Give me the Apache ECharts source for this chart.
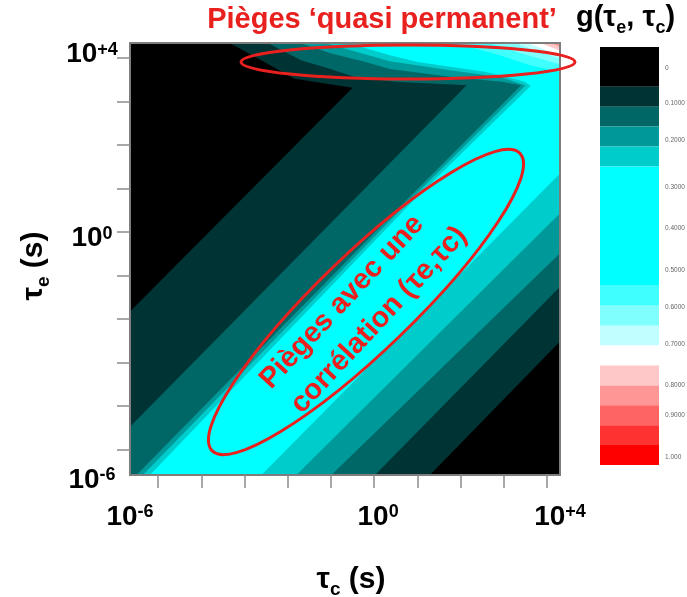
<!DOCTYPE html>
<html>
<head>
<meta charset="utf-8">
<script src="https://cdn.jsdelivr.net/npm/echarts@6/dist/echarts.min.js"></script>
<style>
html,body{margin:0;padding:0;background:#ffffff;}
#chart{width:687px;height:597px;}
</style>
</head>
<body>
<div id="chart"></div>
<script>
// ---------- data (log10 of seconds) ----------
const tauCRange = [-5.65, 4.30];          // x axis: log10(tau_c)
const tauERange = [-5.59, 4.35];          // y axis: log10(tau_e)
const tickDecades = [-5, -4, -3, -2, -1, 0, 1, 2, 3, 4];
const xTickLabelValues = [-5.65, 0.09, 4.30];
const yTickLabelValues = [-5.56, 0, 4.23];
const tickExponents = ['-6', '0', '+4'];

// superlevel regions of g(tau_e, tau_c), vertices [log tau_c, log tau_e]
const levelAll = [[-5.65,-5.59],[4.30,-5.59],[4.30,4.35],[-5.65,4.35]];
const level010 = [[-3.34,4.35],[4.30,4.35],[4.30,-2.52],[1.29,-5.59],[-5.65,-5.59],[-5.65,-1.83],[-0.50,3.32],[-1.14,3.42],[-1.84,3.53]];
const level015 = [[-2.46,4.35],[4.30,4.35],[4.30,-1.26],[0.02,-5.59],[-5.65,-5.59],[-5.65,-4.48],[2.14,3.38],[0.48,3.46],[-0.45,3.57],[-1.07,3.77],[-1.68,3.95]];
const level020 = [[-1.72,4.35],[4.30,4.35],[4.30,-0.49],[-0.99,-5.59],[-5.50,-5.59],[0.75,0.74],[3.40,3.38],[2.95,3.46],[1.80,3.57],[0.36,3.75],[-0.22,3.92],[-0.99,4.11]];
const level025 = [[-1.14,4.35],[4.30,4.35],[4.30,0.43],[-1.80,-5.59],[-5.35,-5.59],[0.83,0.74],[3.50,3.37],[2.95,3.56],[1.80,3.72],[0.36,3.93]];
const level030 = [[-0.61,4.35],[4.30,4.35],[4.30,1.35],[-2.61,-5.59],[-5.19,-5.59],[0.92,0.74],[3.62,3.36],[3.49,3.46],[3.19,3.54],[2.56,3.69],[1.80,3.80],[1.01,3.91],[0.36,4.07]];
const level060 = [[1.87,4.35],[4.30,4.35],[4.30,3.68],[3.60,3.84],[2.91,4.07]];
const level065 = [[2.68,4.35],[4.30,4.35],[4.30,3.86],[3.37,4.12]];
const level070 = [[3.26,4.35],[4.30,4.35],[4.30,4.00],[3.84,4.14]];
const level075 = [[3.55,4.35],[4.30,4.35],[4.30,4.07]];
const level080 = [[3.85,4.35],[4.30,4.35],[4.30,4.17]];
const level085 = [[4.08,4.35],[4.30,4.35],[4.30,4.26]];
const levelPolygons = [levelAll, level010, level015, level020, level025, level030,
                       level060, level065, level070, level075, level080, level085];

// colour scale (band slots on the colour bar, and its labels)
const colorbarBands = [[0,2],[2,3],[3,4],[4,5],[5,6],[6,12],[12,13],[13,14],[14,15],[15,16],[16,17],[17,18],[18,19],[19,20],[20,21]];
const colorbarLabelPos = [1.06, 2.81, 4.67, 7.03, 9.09, 11.2, 13.06, 14.92, 16.98, 18.49, 20.6];
const colorbarLabels = ['0','0.1000','0.2000','0.3000','0.4000','0.5000','0.6000','0.7000','0.8000','0.9000','1.000'];

// ---------- styles ----------
const levelColors = ['#000000','#003333','#006666','#009999','#00cccc','#00ffff',
                     '#40ffff','#80ffff','#c0ffff','#ffffff','#ffc8c8','#ff9696'];
const colorbarColors = ['#000000','#003333','#006666','#009999','#00cccc','#00ffff',
                        '#40ffff','#80ffff','#c0ffff','#ffffff','#ffc8c8','#ff9696','#ff6464','#ff3232','#ff0000'];
const FONT = '"Liberation Sans", Arial, sans-serif';
const RED = '#e8201e';

function nearest(arr, v) {
  let best = 0;
  for (let i = 1; i < arr.length; i++) if (Math.abs(arr[i] - v) < Math.abs(arr[best] - v)) best = i;
  return best;
}

const tickRich = {
  b: { fontFamily: FONT, fontSize: 28, fontWeight: 'bold', color: '#000', lineHeight: 28, padding: [8,0,0,0], verticalAlign: 'bottom' },
  s: { fontFamily: FONT, fontSize: 18, fontWeight: 'bold', color: '#000', lineHeight: 18, verticalAlign: 'top' }
};
const nameRich = {
  t: { fontFamily: FONT, fontSize: 30, fontWeight: 'bold', color: '#000', lineHeight: 34, verticalAlign: 'top' },
  sub: { fontFamily: FONT, fontSize: 19, fontWeight: 'bold', color: '#000', lineHeight: 19, verticalAlign: 'bottom' }
};
const tickStyle = { show: true, customValues: tickDecades, length: 13, lineStyle: { color: '#8c8c8c', width: 1.5 } };
const frameLine = { show: true, onZero: false, lineStyle: { color: '#7d7d7d', width: 2 } };

const chart = echarts.init(document.getElementById('chart'), null, { renderer: 'canvas' });

const option = {
  animation: false,
  backgroundColor: '#ffffff',
  grid: [
    { left: 130, top: 43, width: 430, height: 432, show: true, z: 10, outerBoundsMode: 'none',
      borderColor: '#7d7d7d', borderWidth: 2, backgroundColor: 'rgba(0,0,0,0)' },
    { left: 600, top: 47, width: 59, height: 418, outerBoundsMode: 'none' }
  ],
  xAxis: [
    { gridIndex: 0, type: 'value', min: tauCRange[0], max: tauCRange[1], z: 10,
      axisLine: frameLine, splitLine: { show: false },
      axisTick: tickStyle,
      axisLabel: { show: true, customValues: xTickLabelValues, margin: 28, rich: tickRich,
        formatter: v => '{b|10}{s|' + tickExponents[nearest(xTickLabelValues, v)] + '}' },
      name: '{t|τ}{sub|c}{t| (s)}', nameLocation: 'middle', nameGap: 90,
      nameTextStyle: { rich: nameRich, padding: [0, 0, 0, 12] } },
    { gridIndex: 1, type: 'value', min: 0, max: 1, show: false }
  ],
  yAxis: [
    { gridIndex: 0, type: 'value', min: tauERange[0], max: tauERange[1], z: 10,
      axisLine: frameLine, splitLine: { show: false },
      axisTick: tickStyle,
      axisLabel: { show: true, customValues: yTickLabelValues, margin: 38, align: 'center', rich: tickRich,
        padding: [13, 0, 0, 0],
        formatter: v => '{b|10}{s|' + tickExponents[nearest(yTickLabelValues, v)] + '}' },
      name: '{t|τ}{sub|e}{t| (s)}', nameLocation: 'middle', nameRotate: 90, nameGap: 77,
      nameTextStyle: { rich: nameRich, padding: [0, 14, 0, 0] } },
    { gridIndex: 1, type: 'value', min: 0, max: 21, inverse: true, show: false }
  ],
  series: [
    { type: 'custom', name: 'g(τe, τc)', xAxisIndex: 0, yAxisIndex: 0, silent: true,
      data: levelPolygons.map((p, i) => ({ value: [tauCRange[0], tauERange[0]], name: 'level ' + i })),
      renderItem: (params, api) => {
        const poly = levelPolygons[params.dataIndex];
        return { type: 'polygon', shape: { points: poly.map(p => api.coord(p)) },
                 style: { fill: levelColors[params.dataIndex], stroke: null } };
      } },
    { type: 'custom', name: 'colorbar', xAxisIndex: 1, yAxisIndex: 1, silent: true,
      data: colorbarBands.map(b => [0, b[0], b[1]]),
      renderItem: (params, api) => {
        const p0 = api.coord([0, api.value(1)]);
        const p1 = api.coord([1, api.value(2)]);
        return { type: 'rect', shape: { x: p0[0], y: p0[1], width: p1[0] - p0[0], height: p1[1] - p0[1] },
                 style: { fill: colorbarColors[params.dataIndex] } };
      } },
    { type: 'custom', name: 'colorbar labels', xAxisIndex: 1, yAxisIndex: 1, silent: true,
      data: colorbarLabelPos.map(v => [1, v]),
      renderItem: (params, api) => {
        const p = api.coord([api.value(0), api.value(1)]);
        return { type: 'text', x: p[0] + 6, y: p[1],
                 style: { text: colorbarLabels[params.dataIndex], font: '6.5px ' + FONT, fill: '#666',
                          align: 'left', verticalAlign: 'middle' } };
      } }
  ],
  graphic: [
    { type: 'text', z: 100, x: 382, y: 20,
      style: { text: 'Pièges ‘quasi permanent’', font: 'bold 29px ' + FONT, fill: RED, align: 'center', verticalAlign: 'middle' } },
    { type: 'text', z: 100, x: 576, y: 20,
      style: { text: '{m|g(τ}{s|e}{m|, τ}{s|c}{m|)}', align: 'left', verticalAlign: 'middle',
        rich: {
          m: { fontFamily: FONT, fontSize: 29, fontWeight: 'bold', fill: '#000', lineHeight: 34, verticalAlign: 'top' },
          s: { fontFamily: FONT, fontSize: 18, fontWeight: 'bold', fill: '#000', lineHeight: 18, verticalAlign: 'bottom' }
        } } },
    { type: 'ellipse', z: 100, shape: { cx: 408, cy: 62, rx: 167, ry: 17 },
      style: { fill: 'none', stroke: RED, lineWidth: 3 } },
    { type: 'ellipse', z: 100, x: 366, y: 302, rotation: 44 * Math.PI / 180,
      shape: { cx: 0, cy: 0, rx: 214, ry: 48 },
      style: { fill: 'none', stroke: RED, lineWidth: 3 } },
    { type: 'text', z: 100, x: 342, y: 302, rotation: 47 * Math.PI / 180,
      style: { text: 'Pièges avec une', font: 'bold 29px ' + FONT, fill: RED, align: 'center', verticalAlign: 'middle' } },
    { type: 'text', z: 100, x: 379, y: 320, rotation: 47 * Math.PI / 180,
      style: { text: 'corrélation (τe,τc)', font: 'bold 29px ' + FONT, fill: RED, align: 'center', verticalAlign: 'middle' } }
  ]
};
chart.setOption(option);
</script>
</body>
</html>
